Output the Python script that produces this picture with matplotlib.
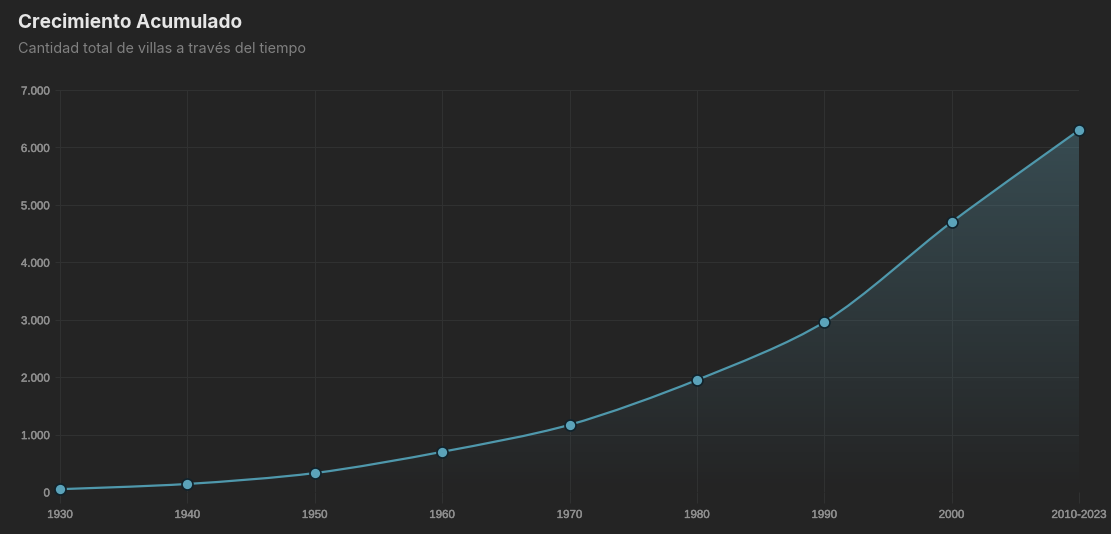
"""Crecimiento acumulado de villas: linea suavizada con area en degradado."""

import matplotlib
matplotlib.use("Agg")
import matplotlib.patheffects as pe
import matplotlib.pyplot as plt
import numpy as np
from matplotlib.colors import LinearSegmentedColormap
from matplotlib.patches import PathPatch
from matplotlib.path import Path

decades = ["1930", "1940", "1950", "1960", "1970", "1980", "1990", "2000", "2010-2023"]
villas = [50, 140, 330, 700, 1170, 1950, 2960, 4700, 6300]
y_ticks = [0, 1000, 2000, 3000, 4000, 5000, 6000, 7000]
y_labels = ["0", "1.000", "2.000", "3.000", "4.000", "5.000", "6.000", "7.000"]

BG = "#242424"
GRID = "#303131"
LINE = "#4f98ac"
DOT = "#5ba3ba"
DOT_EDGE = "#10222b"
TICK_TEXT = "#8f8f8f"
TENSION = 0.3

W, H = 1111, 534


def spline_path(xy, tension):
    """Curva di Bezier che passa per i punti (in pixel)."""
    n = len(xy)
    verts = [xy[0]]
    codes = [Path.MOVETO]
    before, after = list(xy), list(xy)
    for i in range(1, n - 1):
        d01 = np.hypot(*(xy[i] - xy[i - 1]))
        d12 = np.hypot(*(xy[i + 1] - xy[i]))
        s01 = d01 / (d01 + d12)
        delta = xy[i + 1] - xy[i - 1]
        before[i] = xy[i] - tension * s01 * delta
        after[i] = xy[i] + tension * (1 - s01) * delta
    for i in range(n - 1):
        verts += [after[i], before[i + 1], xy[i + 1]]
        codes += [Path.CURVE4] * 3
    return verts, codes


fig = plt.figure(figsize=(W / 100, H / 100), dpi=100, facecolor=BG)
ax = fig.add_axes([60 / W, 1 - 492 / H, (1079 - 60) / W, (492 - 90) / H], facecolor=BG)

x = np.arange(len(decades))
ax.set_xlim(0, len(decades) - 1)
ax.set_ylim(0, 7000)

for spine in ax.spines.values():
    spine.set_visible(False)
ax.grid(True, color=GRID, linewidth=0.72)
ax.set_axisbelow(True)
ax.set_xticks(x, decades)
ax.set_yticks(y_ticks, y_labels)
ax.tick_params(axis="x", length=8, width=0.72, color=GRID, pad=4.2)
ax.tick_params(axis="y", length=3.6, width=0.72, color=GRID, pad=3.6)
for label in ax.get_xticklabels() + ax.get_yticklabels():
    label.set_family("Liberation Sans")
    label.set_fontsize(8.3)
    label.set_color(TICK_TEXT)
    # tratto sottile: il riferimento e' a meta' tra regular e bold
    label.set_path_effects([pe.withStroke(linewidth=0.3, foreground=TICK_TEXT)])

# linea suavizada calcolata in pixel, poi riportata nelle coordinate dati
pts = ax.transData.transform(np.column_stack([x, villas]))
verts, codes = spline_path(pts, TENSION)
verts = ax.transData.inverted().transform(np.array(verts))
curve = Path(verts, codes)

area = Path(
    np.vstack([verts, [[x[-1], 0], [x[0], 0], verts[0]]]),
    codes + [Path.LINETO, Path.LINETO, Path.CLOSEPOLY],
)
patch = PathPatch(area, facecolor="none", edgecolor="none", transform=ax.transData)
ax.add_patch(patch)
cmap = LinearSegmentedColormap.from_list(
    "fade", [(0.36, 0.58, 0.65, 0.0), (0.36, 0.58, 0.65, 0.36)]
)
gradient = np.linspace(1, 0, 256).reshape(-1, 1)
img = ax.imshow(
    gradient, cmap=cmap, vmin=0, vmax=1, aspect="auto", zorder=2,
    extent=(x[0], x[-1], 0, max(villas)),
)
img.set_clip_path(patch)
ax.set_xlim(0, len(decades) - 1)
ax.set_ylim(0, 7000)

ax.add_patch(PathPatch(curve, facecolor="none", edgecolor=LINE, linewidth=1.6, zorder=3))
ax.plot(
    x, villas, linestyle="none", marker="o", markersize=7.9,
    markerfacecolor=DOT, markeredgecolor=DOT_EDGE, markeredgewidth=1.2,
    clip_on=False, zorder=4,
)

fig.text(18 / W, 1 - 23 / H, "Crecimiento Acumulado", family="Inter", fontsize=13.7,
         fontweight="bold", color="#e6e6e6", va="center", ha="left")
fig.text(18 / W, 1 - 49 / H, "Cantidad total de villas a través del tiempo", family="Inter",
         fontsize=10.35, color="#808080", va="center", ha="left")

fig.savefig("out.png", dpi=100, facecolor=BG)
plt.close(fig)
